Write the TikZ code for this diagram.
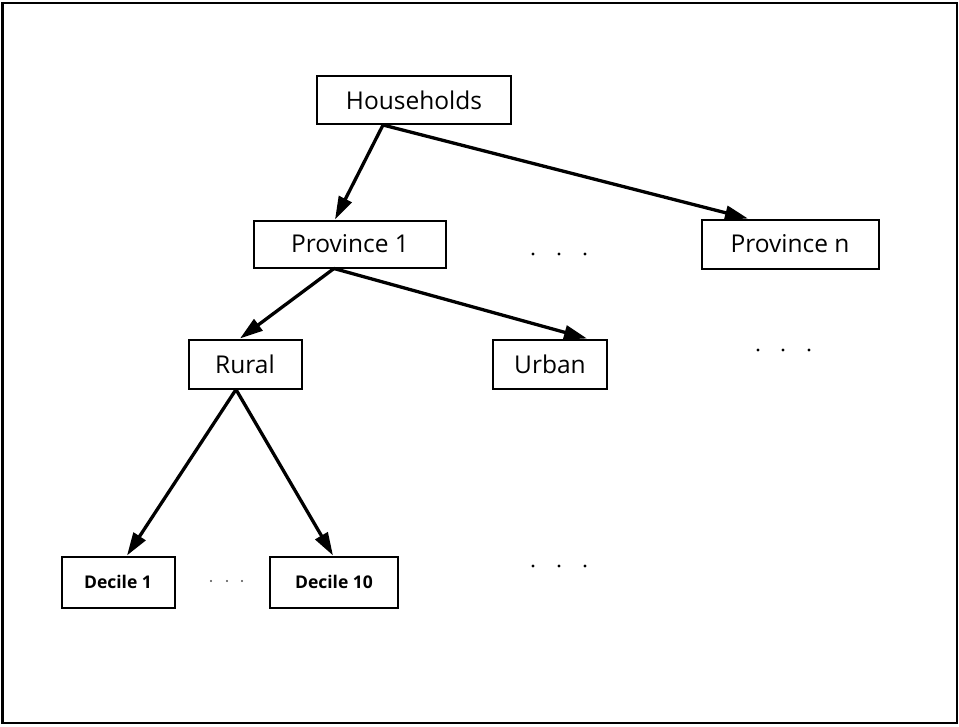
\documentclass[tikz,border=0pt]{standalone}
\usepackage{fontspec}
\setmainfont{Open Sans}
\usetikzlibrary{arrows.meta,calc}
\begin{document}
\begin{tikzpicture}[x=1pt,y=-1pt,
  box/.style={draw,line width=2pt,inner sep=0pt,font=\fontsize{24.5}{27}\selectfont},
  smallbox/.style={box,font=\fontsize{17.5}{20}\selectfont},
  link/.style={line width=3.3pt,-{Triangle[length=23pt,width=14pt]}}]
  % page and frame
  \useasboundingbox (0,0) rectangle (959,726);
  \draw[line width=2.4pt] (2.5,3) rectangle (957,723);

  % tree nodes (text sits a little left of centre)
  \node[box,minimum width=194pt,minimum height=48pt] (hh) at (414,100) {Households\hspace{14pt}};
  \node[box,minimum width=192pt,minimum height=47pt] (p1) at (350,244) {Province 1\hspace{6pt}};
  \node[box,minimum width=177pt,minimum height=49pt] (pn) at (790,244) {Province n\hspace{8pt}};
  \node[box,minimum width=113pt,minimum height=49pt] (rural) at (245,364) {Rural\hspace{6pt}};
  \node[box,minimum width=114pt,minimum height=49pt] (urban) at (550,364) {Urban};
  \node[smallbox,minimum width=113pt,minimum height=51pt] (d1) at (118,582) {\textbf{Decile 1}};
  \node[smallbox,minimum width=128pt,minimum height=51pt] (d10) at (334,582) {\textbf{Decile 10}};

  % connectors
  \draw[link] ($(hh.south)+(-31,0)$) -- ($(p1.north)+(-15,0)$);
  \draw[link] ($(hh.south)+(-31,0)$) -- ($(pn.north)+(-42,0)$);
  \draw[link] ($(p1.south)+(-16,0)$) -- ($(rural.north)+(-5,0)$);
  \draw[link] ($(p1.south)+(-16,0)$) -- ($(urban.north)+(37,0)$);
  \draw[link] ($(rural.south)+(-9,0)$) -- ($(d1.north)+(9,0)$);
  \draw[link] ($(rural.south)+(-9,0)$) -- ($(d10.north)+(-1,0)$);

  % ellipses for omitted branches
  \foreach \x in {533,559,585} {
    \fill (\x,254) circle (1.7pt);
    \fill (\x,566) circle (1.7pt);
  }
  \foreach \x in {758,783,809} \fill (\x,350) circle (1.7pt);
  \foreach \x in {211,227,242} \fill[black!70] (\x,581) circle (1.1pt);
\end{tikzpicture}
\end{document}
